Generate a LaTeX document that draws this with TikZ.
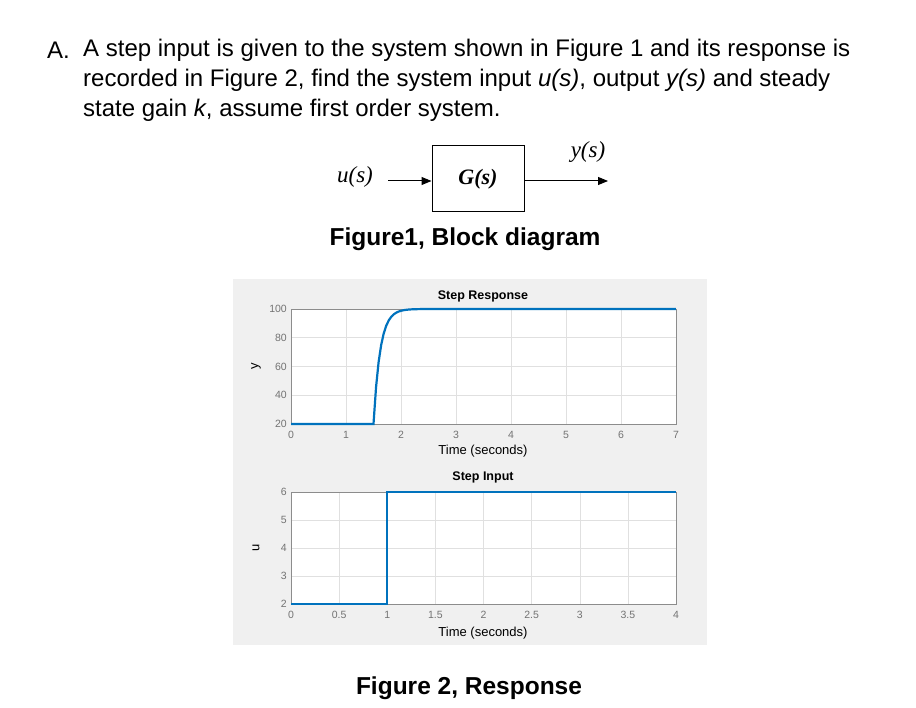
\documentclass[tikz,border=0pt]{standalone}
\usepackage{fontspec}
\setmainfont{Liberation Sans}
\newfontfamily\serifA{Liberation Serif}
\usetikzlibrary{arrows.meta}
\begin{document}
\begin{tikzpicture}[x=1pt,y=-1pt,
  txt/.style={anchor=west,inner sep=0pt,font=\fontsize{24}{28}\selectfont},
  figcap/.style={inner sep=0pt,font=\fontsize{24.5}{28}\selectfont\bfseries},
  sig/.style={inner sep=0pt,font=\serifA\itshape\fontsize{23}{26}\selectfont},
  tick/.style={inner sep=0pt,font=\fontsize{10.5}{12}\selectfont,text=black!55},
  ptitle/.style={inner sep=0pt,font=\fontsize{12.5}{14}\selectfont\bfseries},
  xlab/.style={inner sep=0pt,font=\fontsize{13}{15}\selectfont},
  grid/.style={black!12,line width=0.5pt},
  curve/.style={color={rgb,255:red,0;green,114;blue,189},line width=2.2pt},
  arr/.style={-{Triangle[length=10pt,width=8pt]},line width=1pt}]
\useasboundingbox (0,0) rectangle (916,708);
\node[txt] (a) at (47,50) {A.};
\node[txt] (l1) at (83,50) {A step input is given to the system shown in Figure 1 and its response is};
\node[txt] (l2) at (83,80) {recorded in Figure 2, find the system input \textit{u(s)}, output \textit{y(s)} and steady};
\node[txt] (l3) at (83,110) {state gain \textit{k}, assume first order system.};
% block diagram
\node[draw,line width=1pt,minimum width=92pt,minimum height=66pt,inner sep=0pt,
  font=\serifA\bfseries\itshape\fontsize{22}{24}\selectfont] (G) at (478,179) {G(s)};
\node[sig] (u) at (355,177) {u(s)};
\node[sig] (y) at (588,152) {y(s)};
\coordinate (uin) at (388,181);
\coordinate (yout) at (608,181);
\draw[arr] (uin) -- (uin -| G.west);
\draw[arr] (yout -| G.east) -- (yout);
\node[figcap] (f1) at (465,239) {Figure1, Block diagram};
% panel
\fill[black!6] (233,279) rectangle (707,645);
% plot 1
\fill[white] (291,309) rectangle (676,424);
\foreach \i in {1,...,6} \draw[grid] ({291+55*\i},309) -- ({291+55*\i},424);
\foreach \v in {40,60,80} \draw[grid] (291,{424-115*(\v-20)/80}) -- (676,{424-115*(\v-20)/80});
\draw[black!45,line width=0.5pt] (291,309) rectangle (676,424);
\foreach \i in {0,...,7} \node[tick] at ({291+55*\i},435) {\i};
\foreach \v in {20,40,...,100} \node[tick,anchor=east] at (287,{424-115*(\v-20)/80}) {\v};
\draw[curve] (291,424) -- (373.5,424)
  -- plot[domain=1.5:7,samples=120] ({291+55*\x},{424-115*(1-exp(-(\x-1.5)/0.12))});
\node[ptitle] (t1) at (483,296) {Step Response};
\node[xlab] (x1) at (483,451) {Time (seconds)};
\node[xlab,rotate=90] (yl) at (256,366) {y};
% plot 2
\fill[white] (291,492) rectangle (676,604);
\foreach \i in {1,...,7} \draw[grid] ({291+48.125*\i},492) -- ({291+48.125*\i},604);
\foreach \v in {3,4,5} \draw[grid] (291,{604-28*(\v-2)}) -- (676,{604-28*(\v-2)});
\draw[black!45,line width=0.5pt] (291,492) rectangle (676,604);
\foreach \l [count=\i from 0] in {0,0.5,1,1.5,2,2.5,3,3.5,4} \node[tick] at ({291+48.125*\i},615) {\l};
\foreach \v in {2,...,6} \node[tick,anchor=east] at (287,{604-28*(\v-2)}) {\v};
\draw[curve] (291,604) -- (387,604) -- (387,492) -- (676,492);
\node[ptitle] (t2) at (483,477) {Step Input};
\node[xlab] (x2) at (483,633) {Time (seconds)};
\node[xlab,rotate=90] (ul) at (256,548) {u};
\node[figcap] (f2) at (469,688) {Figure 2, Response};
\end{tikzpicture}
\end{document}
